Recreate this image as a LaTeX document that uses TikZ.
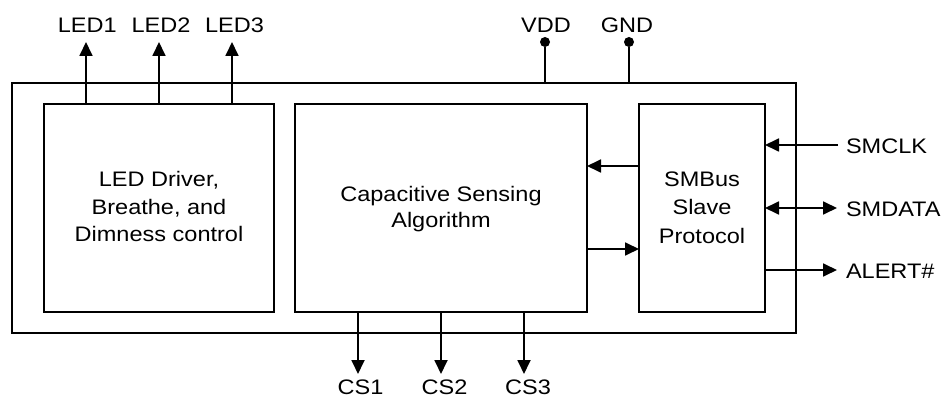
\documentclass[tikz,border=0pt]{standalone}
\usepackage{fontspec}
\setmainfont{Liberation Sans}[FakeStretch=1.12]
\usetikzlibrary{arrows.meta}
\begin{document}
\begin{tikzpicture}[x=1pt,y=-1pt,
  line width=1.8pt,
  every node/.style={font=\fontsize{21}{27.5}\selectfont, inner sep=0pt, outer sep=0pt},
  blk/.style={draw, anchor=north west, align=center},
  arr/.style={-{Triangle[length=14pt,width=13pt]}},
  biarr/.style={{Triangle[length=14pt,width=13pt]}-{Triangle[length=14pt,width=13pt]}},
  lbl/.style={anchor=base},
  pin/.style={circle, fill, minimum size=10pt}
]
\useasboundingbox (0,0) rectangle (943,398);
% blocks
\node[blk, minimum width=784pt, minimum height=250pt] (outer) at (12,83) {};
\node[blk, minimum width=230pt, minimum height=208pt] (led) at (44,104) {};
\node[blk, minimum width=292pt, minimum height=208pt] (cap) at (295,104) {};
\node[blk, minimum width=126pt, minimum height=208pt] (smb) at (639,104) {};
% block texts
\node[align=center] (ledt) at (159,206.7) {LED Driver,\\Breathe, and\\Dimness control};
\node[align=center, font=\fontsize{21}{25.6}\selectfont] (capt) at (441,209.2) {Capacitive Sensing\\Algorithm};
\node[align=center, font=\fontsize{21}{28.3}\selectfont] (smbt) at (702,207.5) {SMBus\\Slave\\Protocol};
% LED outputs
\coordinate (l1) at (86,42);
\coordinate (l2) at (159,42);
\coordinate (l3) at (232,42);
\draw[arr] (led.north -| l1) -- (l1);
\draw[arr] (led.north -| l2) -- (l2);
\draw[arr] (led.north -| l3) -- (l3);
\node[lbl] (led1) at (87.3,33) {LED1};
\node[lbl] (led2) at (161,33) {LED2};
\node[lbl] (led3) at (234.5,33) {LED3};
% power pins
\node[pin] (vddp) at (545,42) {};
\node[pin] (gndp) at (629,42) {};
\draw (outer.north -| vddp) -- (vddp);
\draw (outer.north -| gndp) -- (gndp);
\node[lbl] (vdd) at (546,33) {VDD};
\node[lbl] (gnd) at (627,33) {GND};
% internal arrows
\coordinate (a1) at (639,166);
\coordinate (a2) at (587,249);
\draw[arr] (a1) -- (cap.east |- a1);
\draw[arr] (a2) -- (smb.west |- a2);
% SMBus pins
\coordinate (smclk) at (838,145);
\coordinate (smdata) at (837,208);
\coordinate (alert) at (837,270);
\draw[arr] (smclk) -- (smb.east |- smclk);
\draw[biarr] (smb.east |- smdata) -- (smdata);
\draw[arr] (smb.east |- alert) -- (alert);
\node[anchor=base west] (smclkl) at (846,154) {SMCLK};
\node[anchor=base west] (smdatal) at (846,217) {SMDATA};
\node[anchor=base west] (alertl) at (846,278.3) {ALERT\#};
% CS outputs
\coordinate (c1) at (358,374);
\coordinate (c2) at (441,374);
\coordinate (c3) at (524,374);
\draw[arr] (cap.south -| c1) -- (c1);
\draw[arr] (cap.south -| c2) -- (c2);
\draw[arr] (cap.south -| c3) -- (c3);
\node[lbl] (cs1) at (360.5,394) {CS1};
\node[lbl] (cs2) at (444.5,394) {CS2};
\node[lbl] (cs3) at (528,394) {CS3};
\end{tikzpicture}
\end{document}
